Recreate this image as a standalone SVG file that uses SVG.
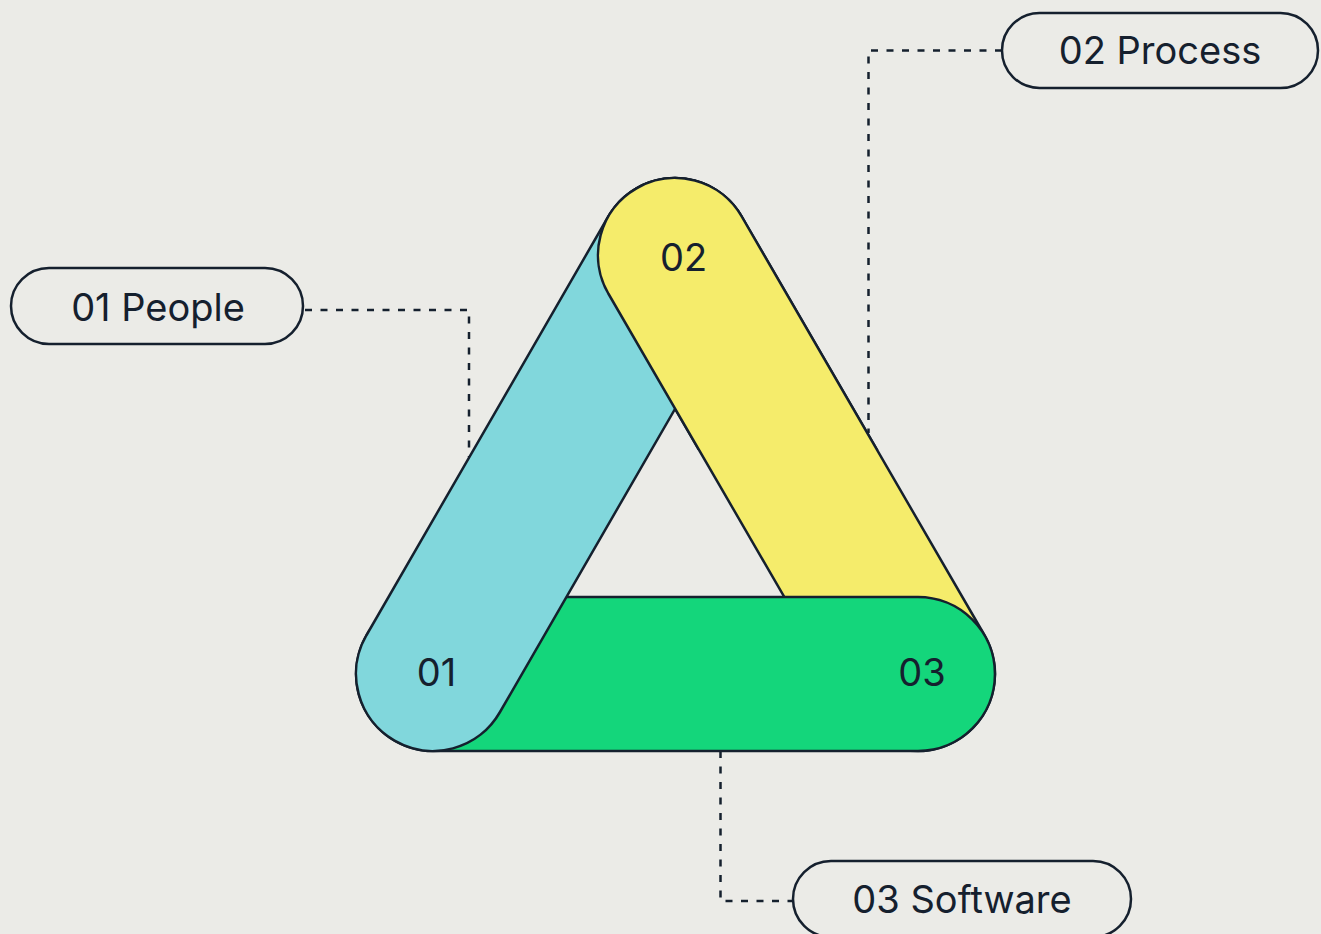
<svg xmlns="http://www.w3.org/2000/svg" width="1321" height="934" viewBox="0 0 1321 934">
<defs>
<style>
.cap{stroke:#15202e;stroke-width:2.5;stroke-linejoin:round}
.blue{fill:#81d7dc}
.yellow{fill:#f5ec6b}
.green{fill:#14d67b}
.pill{fill:none;stroke:#15202e;stroke-width:2.5}
.lbl{font-family:Inter,"Liberation Sans",sans-serif;font-size:38px;fill:#15202e;text-anchor:middle}
.num{font-family:Inter,"Liberation Sans",sans-serif;font-size:38px;fill:#15202e;text-anchor:middle}
.dash{fill:none;stroke:#15202e;stroke-width:2.5;stroke-dasharray:7 8.5}
</style>
<clipPath id="topClip"><rect x="500" y="100" width="400" height="350"/></clipPath>
<path id="yellowShape" d="M608.3 293.5 A77 77 0 0 1 741.7 216.5 L984.7 635.5 A77 77 0 0 1 851.3 712.5 Z"/>
<path id="greenShape" d="M433 597 L918 597 A77 77 0 0 1 918 751 L433 751 A77 77 0 0 1 433 597 Z"/>
<path id="blueShape" d="M366.3 635.5 L608.3 216.5 A77 77 0 0 1 741.7 293.5 L499.7 712.5 A77 77 0 0 1 366.3 635.5 Z"/>
</defs>
<rect width="1321" height="934" fill="#ebebe7"/>
<g id="connectors">
<path class="dash" d="M305 310 H469 V457"/>
<path class="dash" d="M1002 50.5 H868.5 V433"/>
<path class="dash" d="M720.5 751 V901 H793"/>
</g>
<g id="node-02-yellow"><use href="#yellowShape" class="cap yellow"/></g>
<g id="node-03-green"><use href="#greenShape" class="cap green"/></g>
<g id="node-01-blue"><use href="#blueShape" class="cap blue"/></g>
<g id="node-02-yellow-top" clip-path="url(#topClip)"><use href="#yellowShape" class="cap yellow"/></g>
<g id="numbers">
<text class="num" x="436.5" y="686">01</text>
<text class="num" x="683.5" y="270.5">02</text>
<text class="num" x="922" y="686">03</text>
</g>
<g id="label-people">
<rect class="pill" x="11" y="268" width="292" height="76" rx="38"/>
<text class="lbl" x="158" y="320.5">01 People</text>
</g>
<g id="label-process">
<rect class="pill" x="1002" y="13" width="316" height="75" rx="37.5"/>
<text class="lbl" x="1160" y="64">02 Process</text>
</g>
<g id="label-software">
<rect class="pill" x="793" y="861" width="338" height="76" rx="38"/>
<text class="lbl" x="962" y="913">03 Software</text>
</g>
</svg>
